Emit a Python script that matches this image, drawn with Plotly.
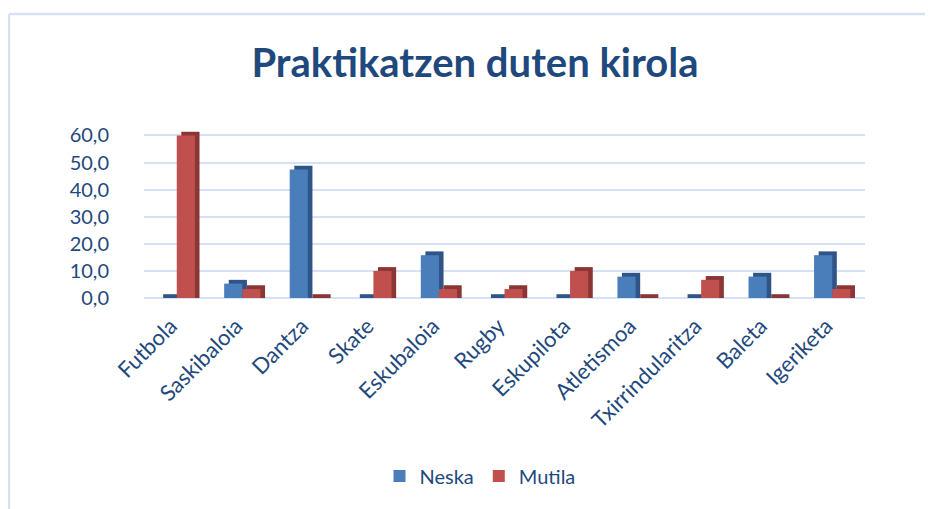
import plotly.graph_objects as go

categories = ["Futbola", "Saskibaloia", "Dantza", "Skate", "Eskubaloia", "Rugby",
              "Eskupilota", "Atletismoa", "Txirrindularitza", "Baleta", "Igeriketa"]
neska = [0.0, 5.3, 47.4, 0.0, 15.8, 0.0, 0.0, 7.9, 0.0, 7.9, 15.8]
mutila = [60.0, 3.3, 0.0, 10.0, 3.3, 3.3, 10.0, 0.0, 6.7, 0.0, 3.3]
y_ticks = [0, 10, 20, 30, 40, 50, 60]

TXT = "#1F497D"
FONT = "Lato, 'Open Sans', sans-serif"

OFF = 8  # page body margin
W, H = 925, 501
ML, MR, MT, MB = 136, 68, 122, 211
pw = W - ML - MR
ph = H - MT - MB

bw = 0.277          # bar width in category units
dx = 0.07           # depth offset (x)
dy = 1.4            # depth offset (y, data units)

fig = go.Figure()

series = [
    ("Neska", neska, -bw, "#4a7ebb", "#2f5588"),
    ("Mutila", mutila, 0.0, "#c0504d", "#8a3634"),
]
for name, vals, off, col, dark in series:
    fig.add_trace(go.Bar(
        x=categories, y=[v + dy for v in vals], base=[0] * len(vals),
        offset=off + dx, width=bw, marker=dict(color=dark, line=dict(width=0)),
        showlegend=False, hoverinfo="skip", cliponaxis=False))
for name, vals, off, col, dark in series:
    fig.add_trace(go.Bar(
        x=categories, y=vals, name=name,
        offset=off, width=bw, marker=dict(color=col, line=dict(width=0)),
        cliponaxis=False))

def px2paper_x(x):
    return (x - OFF - ML) / pw

def px2paper_y(y):
    return 1 - (y - OFF - MT) / ph

border = "#d6e2f3"
fig.add_shape(type="line", xref="paper", yref="paper",
              x0=px2paper_x(9), x1=px2paper_x(9), y0=px2paper_y(14), y1=px2paper_y(509),
              line=dict(color=border, width=2.5))
fig.add_shape(type="line", xref="paper", yref="paper",
              x0=px2paper_x(9), x1=px2paper_x(933), y0=px2paper_y(14), y1=px2paper_y(14),
              line=dict(color=border, width=2.5))

fig.update_layout(
    width=W, height=H,
    margin=dict(l=ML, r=MR, t=MT, b=MB),
    paper_bgcolor="white", plot_bgcolor="white",
    barmode="overlay",
    separators=",.",
    font=dict(family=FONT, color=TXT),
    title=dict(text="<b>Praktikatzen duten kirola</b>", x=(475 - OFF) / W,
               xanchor="center", y=1 - (63 - OFF) / H, yanchor="middle",
               font=dict(size=40, color="#1F497D", family=FONT)),
    xaxis=dict(tickangle=-45, tickfont=dict(size=22, color=TXT),
               showgrid=False, showline=False, zeroline=False,
               ticks="", ticklabelstandoff=10, ticklabelshift=-6),
    yaxis=dict(range=[0, 62], tickvals=y_ticks, tickformat=".1f",
               tickfont=dict(size=20, color=TXT),
               gridcolor="#d5e1f4", gridwidth=2, zeroline=True,
               zerolinecolor="#d5e1f4", zerolinewidth=2,
               showline=False, ticks="", ticklabelstandoff=34),
    legend=dict(orientation="h", x=px2paper_x(480), xanchor="center",
                y=px2paper_y(476), yanchor="middle",
                font=dict(size=20, color=TXT), itemwidth=30),
    showlegend=True,
)

fig.write_html("out.html")
